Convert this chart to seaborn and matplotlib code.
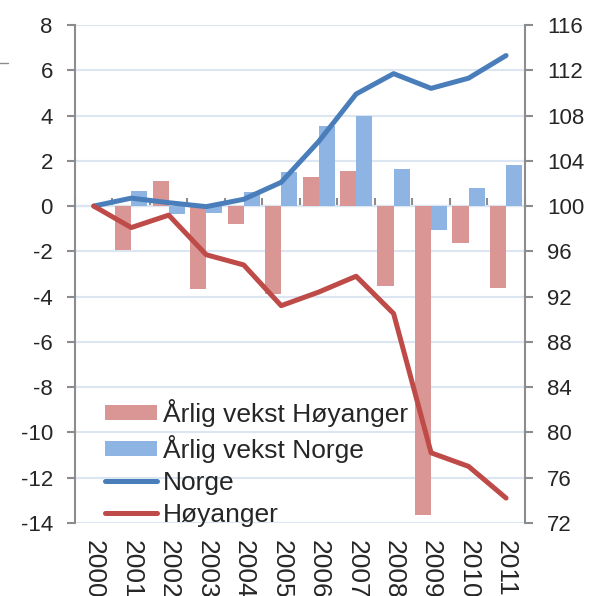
import numpy as np
import pandas as pd
import seaborn as sns
import matplotlib.pyplot as plt
from matplotlib.lines import Line2D

years = [str(y) for y in range(2000, 2012)]
vekst_hoyanger = [0.0, -1.95, 1.1, -3.65, -0.8, -3.9, 1.3, 1.55, -3.55, -13.65, -1.65, -3.6]
vekst_norge = [0.0, 0.65, -0.35, -0.3, 0.6, 1.5, 3.55, 4.0, 1.63, -1.05, 0.8, 1.82]
indeks_norge = [100.0, 100.7, 100.3, 99.95, 100.6, 102.1, 105.7, 109.9, 111.7, 110.4, 111.3, 113.3]
indeks_hoyanger = [100.0, 98.1, 99.2, 95.7, 94.8, 91.2, 92.4, 93.8, 90.5, 78.2, 77.0, 74.2]

GRAY = "#8c8c8c"
PINK = "#d99694"
LBLUE = "#8eb4e3"
BLUE = "#4a7ebb"
RED = "#be4b48"

sns.set_style("white")
plt.rcParams["font.family"] = ["Liberation Sans", "DejaVu Sans"]
plt.rcParams["axes.unicode_minus"] = False

bars = pd.DataFrame({
    "year": years * 2,
    "serie": ["Årlig vekst Høyanger"] * 12 + ["Årlig vekst Norge"] * 12,
    "value": vekst_hoyanger + vekst_norge,
})

fig = plt.figure(figsize=(5.93, 5.96), dpi=100)
ax = fig.add_axes([0.1265, 0.1225, 0.7585, 0.8356])
sns.barplot(data=bars, x="year", y="value", hue="serie",
            hue_order=["Årlig vekst Høyanger", "Årlig vekst Norge"],
            palette=[PINK, LBLUE], saturation=1, width=0.86,
            linewidth=0, ax=ax)
bar_handles, bar_labels = ax.get_legend_handles_labels()
ax.get_legend().remove()

ax.set_xlim(-0.5, 11.5)
ax.set_ylim(-14, 8)
ax.set_yticks(range(-14, 9, 2))
ax.set_xlabel("")
ax.set_ylabel("")
ax.grid(axis="y", color="#dce6f2", lw=1.5)
ax.set_axisbelow(True)
for s in ["top", "right", "bottom"]:
    ax.spines[s].set_visible(False)
ax.spines["left"].set_color(GRAY)
ax.spines["left"].set_linewidth(1.5)
ax.tick_params(axis="y", direction="out", length=6, width=1.5, color=GRAY,
               pad=10, labelsize=16)
ax.tick_params(axis="x", length=0, pad=12, labelrotation=270, labelsize=19)
for lab in ax.get_xticklabels():
    lab.set_verticalalignment("top")

# zero line with category boundary ticks
sec = ax.secondary_xaxis(14 / 22)
sec.set_xticks(np.arange(-0.5, 12, 1))
sec.tick_params(direction="out", length=6, width=1.5, color=GRAY,
                labelbottom=False, labeltop=False)
for s in sec.spines.values():
    s.set_color(GRAY)
    s.set_linewidth(1.5)

ax2 = ax.twinx()
pos = np.arange(len(years))
sns.lineplot(x=pos, y=indeks_norge, color=BLUE, lw=3.6, ax=ax2,
             label="Norge", solid_capstyle="round")
sns.lineplot(x=pos, y=indeks_hoyanger, color=RED, lw=3.6, ax=ax2,
             label="Høyanger", solid_capstyle="round")
line_handles, line_labels = ax2.get_legend_handles_labels()
ax2.set_ylim(72, 116)
ax2.set_yticks(range(72, 117, 4))
for s in ["top", "left", "bottom"]:
    ax2.spines[s].set_visible(False)
ax2.spines["right"].set_color(GRAY)
ax2.spines["right"].set_linewidth(1.5)
ax2.tick_params(axis="y", direction="out", length=6, width=1.5, color=GRAY,
                pad=10, labelsize=16)

ax2.legend(bar_handles + line_handles, bar_labels + line_labels,
           loc="lower left", bbox_to_anchor=(0.038, -0.034), frameon=False,
           borderpad=0, handlelength=1.95, handleheight=0.5, handletextpad=0.25,
           labelspacing=0.3, fontsize=19)

fig.add_artist(Line2D([0, 0.014], [0.894, 0.894], color=GRAY, lw=1))

fig.savefig("out.png", dpi=100)
